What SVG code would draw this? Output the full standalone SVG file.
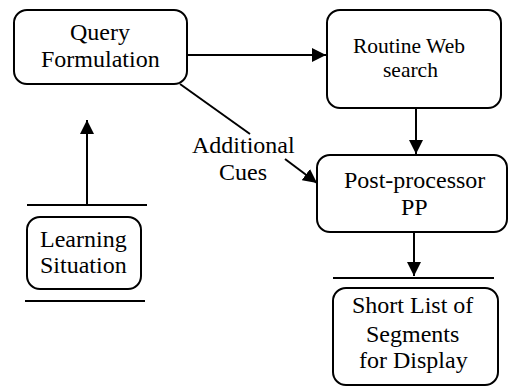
<svg xmlns="http://www.w3.org/2000/svg" width="509" height="391" viewBox="0 0 509 391">
<defs>
<marker id="ah" viewBox="0 0 14 14" refX="14" refY="7" markerWidth="14" markerHeight="14" markerUnits="userSpaceOnUse" orient="auto">
<path d="M0,0 L14,7 L0,14 Z" fill="#000"/>
</marker>
</defs>
<rect width="509" height="391" fill="#fff"/>
<g id="connectors">
<g stroke="#000" stroke-width="2" fill="none">
<line x1="187" y1="55" x2="326" y2="55" marker-end="url(#ah)"/>
<line x1="416" y1="108" x2="416" y2="154" marker-end="url(#ah)"/>
<line x1="414" y1="233" x2="414" y2="276" marker-end="url(#ah)"/>
<line x1="87" y1="205" x2="87" y2="120" marker-end="url(#ah)"/>
<line x1="180" y1="84" x2="250" y2="134"/>
<line x1="285" y1="159" x2="317" y2="183" marker-end="url(#ah)"/>
</g>
<text font-family="Liberation Serif" font-size="24" x="192" y="153">Additional</text>
<text font-family="Liberation Serif" font-size="24" x="219" y="180">Cues</text>
</g>
<g id="query">
<rect x="14" y="10" width="173" height="74" rx="13" fill="#fff" stroke="#000" stroke-width="2"/>
<text font-family="Liberation Serif" font-size="24" x="70" y="40">Query</text>
<text font-family="Liberation Serif" font-size="24" x="41" y="67">Formulation</text>
</g>
<g id="routine">
<rect x="327" y="10" width="174" height="98" rx="13" fill="#fff" stroke="#000" stroke-width="2"/>
<text font-family="Liberation Serif" font-size="21.5" x="353" y="53">Routine Web</text>
<text font-family="Liberation Serif" font-size="21.5" x="383" y="77">search</text>
</g>
<g id="postprocessor">
<rect x="317" y="155" width="190" height="77" rx="13" fill="#fff" stroke="#000" stroke-width="2"/>
<text font-family="Liberation Serif" font-size="24" x="344" y="188">Post-processor</text>
<text font-family="Liberation Serif" font-size="24" x="401" y="215">PP</text>
</g>
<g id="learning">
<line x1="27" y1="205" x2="147" y2="205" stroke="#000" stroke-width="2"/>
<rect x="27" y="217" width="114" height="72" rx="13" fill="#fff" stroke="#000" stroke-width="2"/>
<text font-family="Liberation Serif" font-size="24" x="40" y="247">Learning</text>
<text font-family="Liberation Serif" font-size="24" x="40" y="273">Situation</text>
<line x1="25" y1="301" x2="145" y2="301" stroke="#000" stroke-width="2"/>
</g>
<g id="shortlist">
<line x1="333" y1="278" x2="494" y2="278" stroke="#000" stroke-width="2"/>
<rect x="333" y="288" width="165" height="97" rx="13" fill="#fff" stroke="#000" stroke-width="2"/>
<text font-family="Liberation Serif" font-size="24" x="352" y="313">Short List of</text>
<text font-family="Liberation Serif" font-size="24" x="366" y="342">Segments</text>
<text font-family="Liberation Serif" font-size="24" x="359" y="368">for Display</text>
</g>
</svg>
